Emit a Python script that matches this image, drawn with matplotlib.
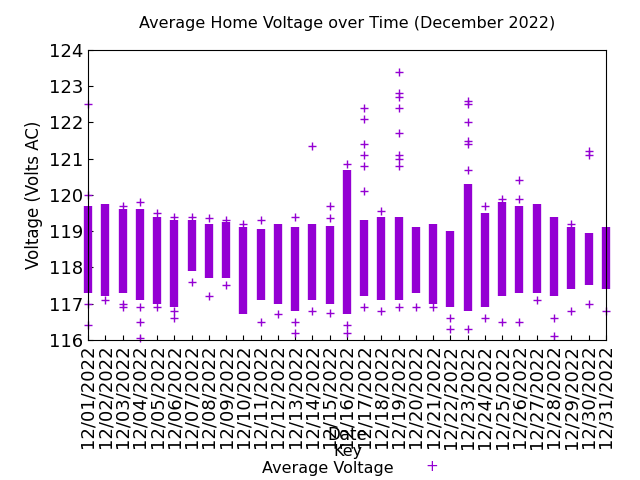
import matplotlib
matplotlib.use("Agg")
import matplotlib.pyplot as plt

days = list(range(1, 32))
labels = ["12/%02d/2022" % d for d in days]
band_lo = [117.3, 117.2, 117.3, 117.1, 117.0, 116.9, 117.9, 117.7, 117.7, 116.7, 117.1, 117.0, 116.8, 117.1, 117.0, 116.7,
           117.2, 117.1, 117.1, 117.3, 117.0, 116.9, 116.8, 116.9, 117.2, 117.3, 117.3, 117.2, 117.4, 117.5, 117.4]
band_hi = [119.7, 119.75, 119.6, 119.6, 119.4, 119.3, 119.3, 119.2, 119.25, 119.1, 119.05, 119.2, 119.1, 119.2, 119.15, 120.7,
           119.3, 119.4, 119.4, 119.1, 119.2, 119.0, 120.3, 119.5, 119.8, 119.7, 119.75, 119.4, 119.1, 118.95, 119.1]
outliers = [
    [122.5, 120.0, 117.0, 116.4], [117.1], [119.7, 117.0, 116.9], [119.8, 116.9, 116.5, 116.05],
    [119.5, 116.9], [119.4, 116.8, 116.6], [119.4, 117.6], [119.35, 117.2], [119.3, 117.5], [119.2],
    [119.3, 116.5], [116.7], [119.4, 116.5, 116.2], [121.35, 116.8], [119.7, 119.35, 116.75],
    [120.85, 116.4, 116.2], [122.4, 122.1, 121.4, 121.1, 120.8, 120.1, 116.9], [119.55, 116.8],
    [123.4, 122.8, 122.7, 122.4, 121.7, 121.1, 121.0, 120.8, 116.9], [116.9], [116.9], [116.6, 116.3],
    [122.6, 122.5, 122.0, 121.5, 121.4, 120.7, 116.3], [119.7, 116.6], [119.9, 116.5],
    [120.4, 119.9, 116.5], [117.1], [116.6, 116.1], [119.2, 116.8], [121.2, 121.1, 117.0], [116.8],
]

color = "#9400d3"
fig = plt.figure(figsize=(6.4, 4.8), dpi=100)
ax = fig.add_axes([0.1375, 0.292, 0.809, 0.604])
ax.vlines(days, band_lo, band_hi, color=color, linewidth=6, clip_on=False)
for d, vals in zip(days, outliers):
    ax.plot([d] * len(vals), vals, "+", color=color, markersize=6, markeredgewidth=1, clip_on=False)
ax.set_xlim(1, 31)
ax.set_ylim(116, 124)
ax.set_yticks(range(116, 125))
ax.tick_params(axis="y", labelsize=13, direction="in")
ax.set_xticks(days)
ax.set_xticklabels(labels, rotation=90, fontsize=13)
ax.tick_params(axis="x", direction="in")
ax.set_ylabel("Voltage (Volts AC)", fontsize=12)
ax.set_title("Average Home Voltage over Time (December 2022)", fontsize=11.5, pad=16)
fig.text(0.543, 0.083, "Date", fontsize=12, ha="center")
fig.text(0.543, 0.05, "Key", fontsize=11.5, ha="center")
fig.text(0.41, 0.015, "Average Voltage", fontsize=11.5)
fig.text(0.665, 0.018, "+", fontsize=11, color=color)
fig.savefig("out.png")
